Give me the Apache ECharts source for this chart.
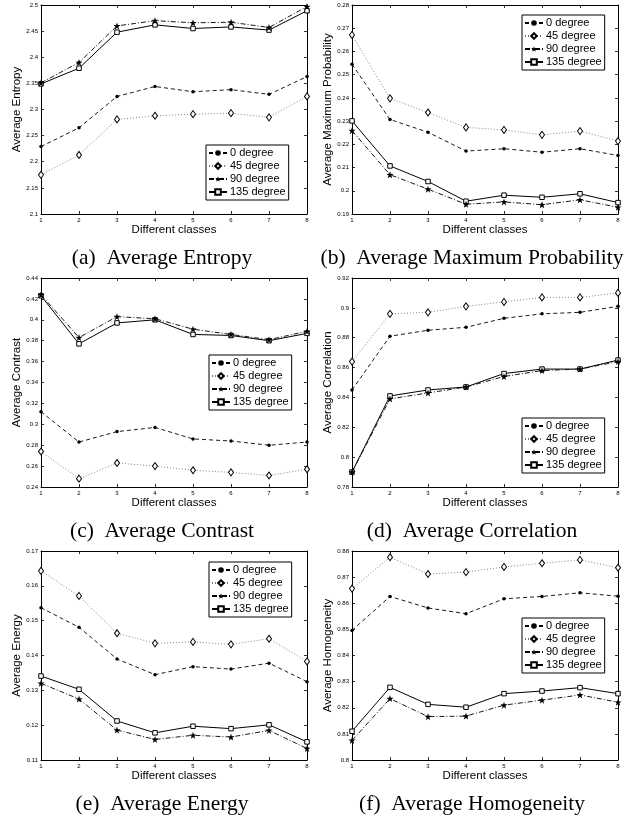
<!DOCTYPE html>
<html>
<head>
<meta charset="utf-8">
<script src="https://cdn.jsdelivr.net/npm/echarts@6/dist/echarts.min.js"></script>
<style>
html,body{margin:0;padding:0;background:#fff;}
#chart{width:639px;height:821px;}
</style>
</head>
<body>
<div id="chart"></div>
<script>
// ---- data ----
const classes = [1, 2, 3, 4, 5, 6, 7, 8];
const seriesNames = ['0 degree', '45 degree', '90 degree', '135 degree'];

const entropy0   = [2.229, 2.265, 2.325, 2.344, 2.334, 2.338, 2.329, 2.363];
const entropy45  = [2.175, 2.213, 2.281, 2.288, 2.291, 2.293, 2.285, 2.325];
const entropy90  = [2.351, 2.390, 2.460, 2.470, 2.466, 2.467, 2.457, 2.497];
const entropy135 = [2.349, 2.379, 2.448, 2.462, 2.455, 2.458, 2.452, 2.489];

const maxProb0   = [0.2545, 0.2307, 0.2252, 0.2171, 0.2181, 0.2166, 0.2181, 0.2152];
const maxProb45  = [0.2671, 0.2398, 0.2337, 0.2273, 0.2262, 0.2241, 0.2257, 0.2214];
const maxProb90  = [0.2259, 0.2069, 0.2007, 0.1942, 0.1952, 0.1940, 0.1961, 0.1929];
const maxProb135 = [0.2301, 0.2107, 0.2040, 0.1955, 0.1981, 0.1972, 0.1987, 0.1949];

const contrast0   = [0.312, 0.283, 0.293, 0.297, 0.286, 0.284, 0.280, 0.283];
const contrast45  = [0.274, 0.248, 0.263, 0.260, 0.256, 0.254, 0.251, 0.257];
const contrast90  = [0.424, 0.383, 0.403, 0.401, 0.391, 0.386, 0.381, 0.389];
const contrast135 = [0.423, 0.377, 0.397, 0.400, 0.386, 0.385, 0.380, 0.387];

const correlation0   = [0.845, 0.881, 0.885, 0.887, 0.893, 0.896, 0.897, 0.901];
const correlation45  = [0.864, 0.896, 0.897, 0.901, 0.904, 0.907, 0.907, 0.910];
const correlation90  = [0.790, 0.839, 0.843, 0.847, 0.854, 0.858, 0.859, 0.864];
const correlation135 = [0.790, 0.841, 0.845, 0.847, 0.856, 0.859, 0.859, 0.865];

const energy0   = [0.1537, 0.1481, 0.1390, 0.1345, 0.1368, 0.1361, 0.1378, 0.1325];
const energy45  = [0.1643, 0.1571, 0.1464, 0.1435, 0.1439, 0.1432, 0.1448, 0.1383];
const energy90  = [0.1320, 0.1275, 0.1186, 0.1159, 0.1171, 0.1166, 0.1185, 0.1133];
const energy135 = [0.1341, 0.1303, 0.1212, 0.1178, 0.1197, 0.1190, 0.1201, 0.1152];

const homogeneity0   = [0.8496, 0.8626, 0.8582, 0.8560, 0.8617, 0.8626, 0.8640, 0.8627];
const homogeneity45  = [0.8656, 0.8776, 0.8712, 0.8719, 0.8739, 0.8753, 0.8766, 0.8736];
const homogeneity90  = [0.8075, 0.8235, 0.8166, 0.8168, 0.8210, 0.8229, 0.8249, 0.8221];
const homogeneity135 = [0.8110, 0.8278, 0.8213, 0.8202, 0.8254, 0.8264, 0.8277, 0.8254];

const xAxisTitle = 'Different classes';
const yTitles = ['Average Entropy', 'Average Maximum Probability', 'Average Contrast',
                 'Average Correlation', 'Average Energy', 'Average Homogeneity'];
const captions = ['(a)  Average Entropy', '(b)  Average Maximum Probability', '(c)  Average Contrast',
                  '(d)  Average Correlation', '(e)  Average Energy', '(f)  Average Homogeneity'];
const yMins = [2.1, 0.19, 0.24, 0.78, 0.11, 0.80];
const yMaxs = [2.5, 0.28, 0.44, 0.92, 0.17, 0.88];
const yIntervals = [0.05, 0.01, 0.02, 0.02, 0.01, 0.01];

const panelData = [
  [entropy0, entropy45, entropy90, entropy135],
  [maxProb0, maxProb45, maxProb90, maxProb135],
  [contrast0, contrast45, contrast90, contrast135],
  [correlation0, correlation45, correlation90, correlation135],
  [energy0, energy45, energy90, energy135],
  [homogeneity0, homogeneity45, homogeneity90, homogeneity135]
];

// ---- layout / style ----
const SANS = 'Liberation Sans, Arial, sans-serif';
const SERIF = 'Liberation Serif, Times New Roman, serif';
const colLeft = [41, 352];
const rowTop = [5, 278, 551];
const gridW = 266, gridH = 209;
const legendPos = [[206, 145], [522, 15], [209, 355], [522, 418], [209, 562], [522, 618]];
const captionX = [162, 472];
const captionY = [258, 531, 804];
const yNameGap = [18, 15];

const STAR = 'path://M0,-10 L2.35,-3.24 L9.51,-3.09 L3.8,1.24 L5.88,8.09 L0,4 L-5.88,8.09 L-3.8,1.24 L-9.51,-3.09 L-2.35,-3.24 Z';
const styles = [
  { symbol: 'circle', symbolSize: 3.5, line: { type: [4, 3], width: 0.9, color: '#000' }, item: { color: '#000', borderWidth: 0 } },
  { symbol: 'diamond', symbolSize: [5, 7], line: { type: [1, 2], width: 0.9, color: '#777' }, item: { color: '#fff', borderColor: '#000', borderWidth: 1 } },
  { symbol: STAR, symbolSize: 7, line: { type: [5, 2, 1, 2], width: 0.9, color: '#000' }, item: { color: '#000', borderWidth: 0 } },
  { symbol: 'rect', symbolSize: 4.5, line: { type: 'solid', width: 1, color: '#000' }, item: { color: '#fff', borderColor: '#000', borderWidth: 1 } }
];

const grids = [], xAxes = [], yAxes = [], series = [], legends = [], graphics = [];
const fmt = v => String(+v.toFixed(4));

for (let p = 0; p < 6; p++) {
  const col = p % 2, row = Math.floor(p / 2);
  grids.push({ left: colLeft[col], top: rowTop[row], width: gridW, height: gridH, show: false });
  const axisLine = { show: true, onZero: false, lineStyle: { color: '#000', width: 1 } };
  const tick = { show: true, inside: true, length: 3, lineStyle: { color: '#000', width: 0.8 } };
  xAxes.push({
    gridIndex: p, type: 'value', min: 1, max: 8, interval: 1, position: 'bottom',
    axisLine, axisTick: tick, splitLine: { show: false },
    axisLabel: { fontSize: 6, color: '#000', margin: 3, fontFamily: SANS },
    name: xAxisTitle, nameLocation: 'middle', nameGap: 10,
    nameTextStyle: { fontSize: 11.5, color: '#000', fontFamily: SANS }
  });
  xAxes.push({
    gridIndex: p, type: 'value', min: 1, max: 8, interval: 1, position: 'top',
    axisLine, axisTick: tick, splitLine: { show: false }, axisLabel: { show: false }
  });
  yAxes.push({
    gridIndex: p, type: 'value', min: yMins[p], max: yMaxs[p], interval: yIntervals[p], position: 'left',
    axisLine, axisTick: tick, splitLine: { show: false },
    axisLabel: { fontSize: 6, color: '#000', margin: 3, fontFamily: SANS, formatter: fmt },
    name: yTitles[p], nameLocation: 'middle', nameGap: yNameGap[col],
    nameTextStyle: { fontSize: 11.5, color: '#000', fontFamily: SANS }
  });
  yAxes.push({
    gridIndex: p, type: 'value', min: yMins[p], max: yMaxs[p], interval: yIntervals[p], position: 'right',
    axisLine, axisTick: tick, splitLine: { show: false }, axisLabel: { show: false }
  });
  panelData[p].forEach((vals, s) => {
    const st = styles[s];
    series.push({
      type: 'line', name: seriesNames[s], xAxisIndex: 2 * p, yAxisIndex: 2 * p,
      data: classes.map((c, j) => [c, vals[j]]),
      symbol: st.symbol, symbolSize: st.symbolSize, showAllSymbol: true,
      lineStyle: st.line, itemStyle: st.item,
      emphasis: { disabled: true }, animation: false, z: 3 + (3 - s)
    });
  });
  legends.push({
    orient: 'vertical', left: legendPos[p][0], top: legendPos[p][1],
    data: seriesNames, selectedMode: false,
    backgroundColor: '#fff', borderColor: '#000', borderWidth: 1, borderRadius: 0,
    padding: [2, 3, 2, 2], itemWidth: 18, itemHeight: 7, itemGap: 1,
    textStyle: { fontSize: 11, color: '#000', fontFamily: SANS, lineHeight: 12, padding: [0, 0, 0, -2] }
  });
  graphics.push({
    type: 'text', x: captionX[col], y: captionY[row],
    style: { text: captions[p], fill: '#000', font: '21.5px ' + SERIF, textAlign: 'center', textVerticalAlign: 'middle' }
  });
}

const chart = echarts.init(document.getElementById('chart'), null, { renderer: 'canvas' });
chart.setOption({
  animation: false,
  backgroundColor: '#fff',
  grid: grids, xAxis: xAxes, yAxis: yAxes, series, legend: legends, graphic: graphics
});
</script>
</body>
</html>
